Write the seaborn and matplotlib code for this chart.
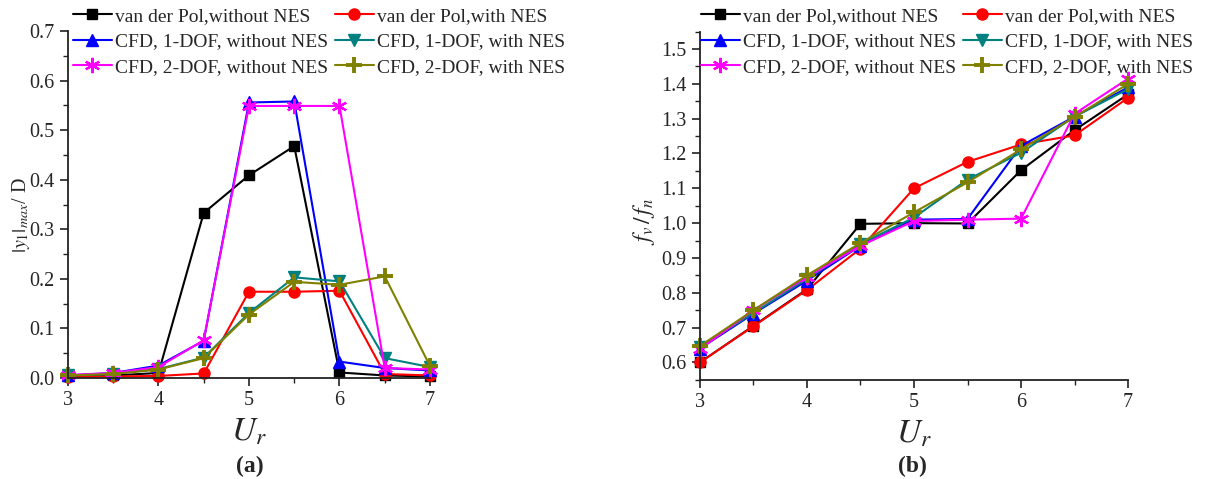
import numpy as np
import pandas as pd
import matplotlib
matplotlib.use("Agg")
import matplotlib.pyplot as plt
import seaborn as sns
from matplotlib.ticker import MultipleLocator

# ---------------- data ----------------
ur = [3.0, 3.5, 4.0, 4.5, 5.0, 5.5, 6.0, 6.5, 7.0]

labels = ["van der Pol,without NES", "van der Pol,with NES",
          "CFD, 1-DOF, without NES", "CFD, 1-DOF, with NES",
          "CFD, 2-DOF, without NES", "CFD, 2-DOF, with NES"]

# (a) amplitude |y1|max / D
amp_vdp_without = [0.003, 0.005, 0.010, 0.333, 0.409, 0.468, 0.011, 0.005, 0.003]
amp_vdp_with    = [0.002, 0.003, 0.004, 0.009, 0.174, 0.174, 0.176, 0.008, 0.005]
amp_cfd1_without = [0.005, 0.010, 0.025, 0.075, 0.556, 0.558, 0.033, 0.020, 0.015]
amp_cfd1_with    = [0.005, 0.008, 0.018, 0.041, 0.131, 0.203, 0.195, 0.040, 0.022]
amp_cfd2_without = [0.006, 0.010, 0.022, 0.076, 0.549, 0.549, 0.549, 0.020, 0.017]
amp_cfd2_with    = [0.005, 0.008, 0.017, 0.040, 0.128, 0.194, 0.188, 0.205, 0.024]

# (b) frequency ratio fv / fn
fr_vdp_without = [0.600, 0.705, 0.810, 0.998, 1.000, 0.999, 1.152, 1.267, 1.370]
fr_vdp_with    = [0.600, 0.704, 0.808, 0.927, 1.100, 1.176, 1.226, 1.252, 1.360]
fr_cfd1_without = [0.640, 0.740, 0.835, 0.935, 1.010, 1.012, 1.222, 1.306, 1.390]
fr_cfd1_with    = [0.644, 0.742, 0.840, 0.940, 1.016, 1.125, 1.202, 1.306, 1.385]
fr_cfd2_without = [0.638, 0.750, 0.845, 0.935, 1.006, 1.010, 1.013, 1.314, 1.415]
fr_cfd2_with    = [0.647, 0.750, 0.850, 0.943, 1.031, 1.117, 1.212, 1.305, 1.400]

amp_series = [amp_vdp_without, amp_vdp_with, amp_cfd1_without,
              amp_cfd1_with, amp_cfd2_without, amp_cfd2_with]
fr_series = [fr_vdp_without, fr_vdp_with, fr_cfd1_without,
             fr_cfd1_with, fr_cfd2_without, fr_cfd2_with]

colors = ["#000000", "#FF0000", "#0000FF", "#008080", "#FF00FF", "#808000"]
markers = ["s", "o", "^", "v", (6, 2, 0), "+"]
msizes = [7, 8, 8, 8, 11, 11]
mews = [1, 1, 1, 1, 1.6, 2.8]

# ---------------- style ----------------
sns.set_style("ticks")
plt.rcParams["font.family"] = ["Liberation Serif", "DejaVu Serif"]
plt.rcParams["mathtext.fontset"] = "stix"
plt.rcParams["xtick.direction"] = "out"
plt.rcParams["ytick.direction"] = "out"

fig = plt.figure(figsize=(12.13, 4.79), dpi=100)
ax1 = fig.add_axes([0.056, 0.211, 0.2985, 0.724])
ax2 = fig.add_axes([0.577, 0.207, 0.353, 0.727])


def draw(ax, series):
    handles = []
    for vals, lab, c, m, ms, mew in zip(series, labels, colors, markers, msizes, mews):
        df = pd.DataFrame({"Ur": ur, "v": vals})
        sns.lineplot(data=df, x="Ur", y="v", ax=ax, color=c, marker=m,
                     markersize=ms, markeredgecolor=c, markerfacecolor=c,
                     markeredgewidth=mew, linewidth=1.5, label=lab, legend=False,
                     clip_on=False)
        handles.append(ax.lines[-1])
    return handles


h1 = draw(ax1, amp_series)
h2 = draw(ax2, fr_series)

for ax in (ax1, ax2):
    ax.set_xlim(3, 7)
    ax.xaxis.set_major_locator(MultipleLocator(1))
    ax.xaxis.set_minor_locator(MultipleLocator(0.5))
    ax.yaxis.set_minor_locator(MultipleLocator(0.05))
    ax.yaxis.set_major_locator(MultipleLocator(0.1))
    ax.tick_params(which="major", length=6, width=1.2, labelsize=14.5, color="#222222")
    ax.tick_params(which="minor", length=3.5, width=1.0, color="#222222")
    for s in ("top", "right"):
        ax.spines[s].set_visible(False)
    for s in ("left", "bottom"):
        ax.spines[s].set_linewidth(1.3)
        ax.spines[s].set_color("#222222")
    ax.set_xlabel(r"$U_r$", fontsize=24, labelpad=5)
    ax.patch.set_alpha(0)

ax1.set_ylim(0, 0.7)
ax1.yaxis.set_major_formatter(matplotlib.ticker.FormatStrFormatter("%.1f"))
ax1.set_ylabel(r"$|y_1|_{max}$/ D", fontsize=14.5)
ax1.yaxis.set_label_coords(-0.10, 0.47)

ax2.set_ylim(0.55, 1.55)
ax2.yaxis.set_major_formatter(matplotlib.ticker.FormatStrFormatter("%.1f"))
ax2.set_ylabel(r"$f_v\,/\,f_n$", fontsize=17)
ax2.yaxis.set_label_coords(-0.10, 0.455)

order = [0, 2, 4, 1, 3, 5]
for ax, hs, xa in ((ax1, h1, 73 / 1213), (ax2, h2, 701 / 1213)):
    fig.legend([hs[i] for i in order], [labels[i] for i in order],
               loc="upper left", bbox_to_anchor=(xa, 1 - 7 / 479), ncol=2,
               frameon=False, fontsize=14, handlelength=2.0, handletextpad=0.15,
               columnspacing=0.35, labelspacing=0.42, borderpad=0, borderaxespad=0)

fig.text(250 / 1213, 1 - 466 / 479, "(a)", fontsize=17, fontweight="bold",
         ha="center", va="center")
fig.text(912 / 1213, 1 - 466 / 479, "(b)", fontsize=17, fontweight="bold",
         ha="center", va="center")

fig.savefig("out.png", dpi=100)
